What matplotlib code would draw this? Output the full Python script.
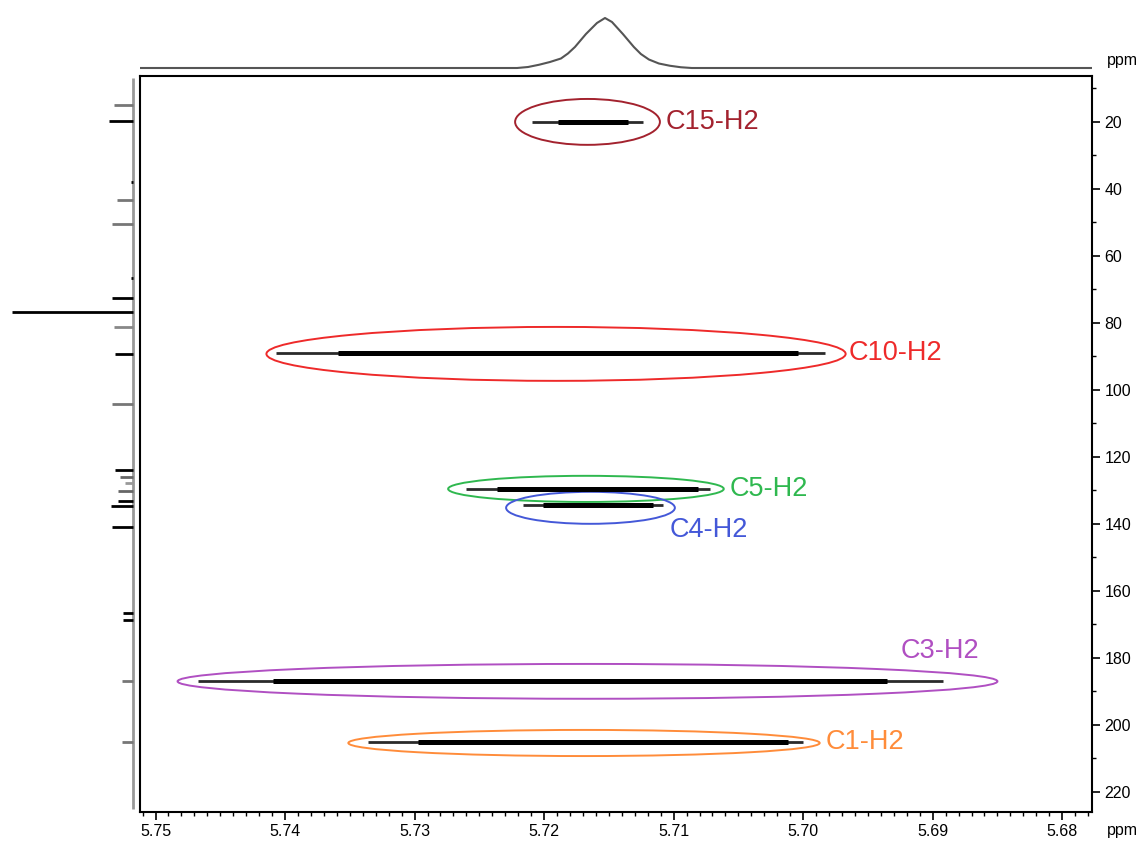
import matplotlib.pyplot as plt
from matplotlib.patches import Ellipse
from matplotlib.ticker import MultipleLocator

plt.rcParams["font.family"] = ["Liberation Sans", "DejaVu Sans"]

# cross peaks: name, 13C shift, full 1H extent, core 1H extent
peak_names = ["C15-H2", "C10-H2", "C5-H2", "C4-H2", "C3-H2", "C1-H2"]
peak_c = [20.0, 89.0, 129.6, 134.3, 186.9, 205.1]
peak_h_full = [(5.7209, 5.7124), (5.7407, 5.6983), (5.7260, 5.7072),
               (5.7216, 5.7108), (5.7467, 5.6892), (5.7336, 5.7000)]
peak_h_core = [(5.7189, 5.7135), (5.7359, 5.7004), (5.7236, 5.7081),
               (5.7201, 5.7116), (5.7409, 5.6935), (5.7297, 5.7012)]

# circles drawn around each cross peak (centre H, centre C, width H, height C)
ell_h = [5.71665, 5.71908, 5.71677, 5.71642, 5.71665, 5.71692]
ell_c = [20.0, 89.25, 129.55, 135.2, 187.0, 205.4]
ell_w = [0.01118, 0.04472, 0.02128, 0.01303, 0.0633, 0.03639]
ell_hgt = [13.7, 16.1, 7.8, 9.55, 10.4, 7.8]
ell_colors = ["#a3222e", "#ee2a2a", "#2fb84f", "#4458d8", "#b04fc2", "#ff8c3a"]
label_h = [5.7106, 5.6965, 5.7057, 5.7103, 5.6925, 5.6983]
label_c = [20.0, 89.0, 129.6, 141.8, 177.9, 205.1]

# 1H projection (top trace)
proj_h = [5.7512, 5.72209, 5.72124, 5.72039, 5.71955, 5.71870, 5.71816, 5.71762,
          5.71677, 5.71592, 5.71530, 5.71476, 5.71392, 5.71307, 5.71253, 5.71191,
          5.71114, 5.71029, 5.70944, 5.70860, 5.6777]
proj_i = [0.0, 0.0, 0.02, 0.065, 0.12, 0.19, 0.29, 0.42,
          0.68, 0.90, 1.0, 0.92, 0.68, 0.42, 0.28, 0.17,
          0.09, 0.045, 0.015, 0.0, 0.0]

# 13C 1D spectrum (left trace)
c13_ppm = [14.9, 19.6, 37.8, 43.3, 50.4, 66.6, 72.5, 76.6, 81.2, 89.3, 104.2,
           123.9, 125.9, 127.8, 130.1, 133.3, 134.8, 140.8, 166.6, 168.7, 186.8, 205.0]
c13_int = [0.16, 0.20, 0.02, 0.13, 0.17, 0.02, 0.17, 1.0, 0.16, 0.15, 0.17,
           0.15, 0.11, 0.07, 0.12, 0.12, 0.18, 0.17, 0.08, 0.08, 0.09, 0.09]
c13_col = ["#777777", "black", "black", "#777777", "#777777", "black", "black", "black",
           "#888888", "black", "#777777", "black", "#666666", "#999999", "#666666",
           "black", "black", "black", "black", "black", "#777777", "#777777"]

xlim = (5.7512, 5.6777)
ylim = (226.0, 6.3)

fig = plt.figure(figsize=(11.46, 8.42), dpi=100)
ax = fig.add_axes([140 / 1146, 1 - 812 / 842, 952 / 1146, 736 / 842])
ax_top = fig.add_axes([140 / 1146, 1 - 70 / 842, 952 / 1146, 60 / 842])
ax_left = fig.add_axes([0.0, 1 - 812 / 842, 135 / 1146, 736 / 842])

# main 2D panel
for c, full, core in zip(peak_c, peak_h_full, peak_h_core):
    ax.plot(full, [c, c], color="#2a2a2a", lw=2.0, solid_capstyle="butt")
    ax.plot(core, [c, c], color="black", lw=3.6, solid_capstyle="butt")

for i, name in enumerate(peak_names):
    ax.add_patch(Ellipse((ell_h[i], ell_c[i]), ell_w[i], ell_hgt[i],
                         fill=False, ec=ell_colors[i], lw=1.4))
    ax.text(label_h[i], label_c[i], name, color=ell_colors[i], fontsize=19.5,
            ha="left", va="center")

ax.set_xlim(*xlim)
ax.set_ylim(*ylim)
ax.xaxis.set_major_locator(MultipleLocator(0.01))
ax.xaxis.set_minor_locator(MultipleLocator(0.001))
ax.xaxis.set_major_formatter(lambda v, p: f"{v:.2f}")
ax.yaxis.set_major_locator(MultipleLocator(20))
ax.yaxis.set_minor_locator(MultipleLocator(10))
ax.yaxis.tick_right()
ax.tick_params(axis="both", which="major", direction="out", length=6, width=1.2,
               labelsize=11.5, pad=3)
ax.tick_params(axis="both", which="minor", direction="out", length=3, width=1)
for s in ax.spines.values():
    s.set_linewidth(1.5)
fig.text(1122 / 1146, 1 - 830 / 842, "ppm", fontsize=11.5, ha="center", va="center")

# top projection
ax_top.plot(proj_h, proj_i, color="#555555", lw=1.5)
ax_top.set_xlim(*xlim)
ax_top.set_ylim(-0.04, 1.16)
ax_top.axis("off")
fig.text(1122 / 1146, 1 - 60 / 842, "ppm", fontsize=11.5, ha="center", va="center")

# left projection
ax_left.vlines(0, 7.0, 225.0, color="#999999", lw=2)
ax_left.hlines(c13_ppm, 0, c13_int, colors=c13_col, lw=2)
ax_left.set_xlim(133 / 121, -2 / 121)
ax_left.set_ylim(*ylim)
ax_left.axis("off")

fig.savefig("out.png", dpi=100)
